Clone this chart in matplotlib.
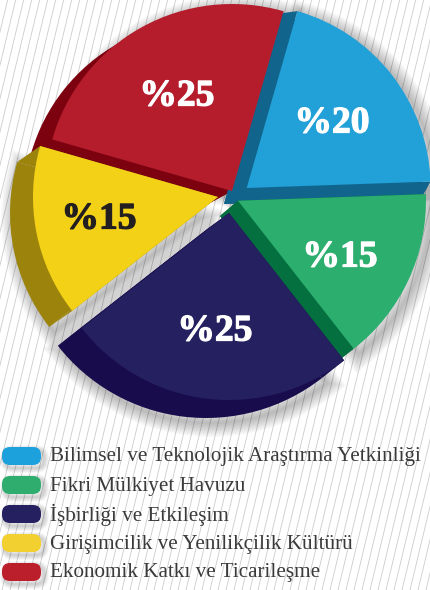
import matplotlib
matplotlib.use('Agg')
import matplotlib.pyplot as plt
import matplotlib.patheffects as pe
from matplotlib.patches import Wedge, Polygon, FancyBboxPatch
import numpy as np

W, H = 430, 590

# data
categories = ['Bilimsel ve Teknolojik Araştırma Yetkinliği',
              'Fikri Mülkiyet Havuzu',
              'İşbirliği ve Etkileşim',
              'Girişimcilik ve Yenilikçilik Kültürü',
              'Ekonomik Katkı ve Ticarileşme']
values = [20, 15, 25, 15, 25]

# styles
face_colors = ['#22A0D8', '#2BAE6E', '#252060', '#F3D116', '#B51D2D']
side_colors = ['#11648C', '#04703F', '#180C4C', '#9C840C', '#7C0210']
legend_colors = ['#1DA1DC', '#2EAD6E', '#252060', '#F2D02F', '#BC1F2C']
label_colors = ['white', 'white', 'white', '#231F20', 'white']
START = 74

# per slice geometry in image pixels (y down): face centre, radius, side centre, radius
face_c = [(246.7, 188), (238, 200.7), (229, 213), (218, 197), (232, 191)]
face_r = [184, 188, 187, 185, 187]
side_c = [(224, 204), (220, 216), (206, 230), (195, 213), (208, 204)]
side_r = [198, 187, 188, 185, 184]
label_pos = [(332, 123), (340, 257), (215, 331), (99, 219), (177, 96)]

# layer of each slice's side and face, so the overlaps come out right
side_z = [5, 8, 10, 3, 2]
face_z = [7, 9, 11, 4, 6]


def px(p):
    return p[0], H - p[1]


def rim(c, r, a):
    x, y = px(c)
    return x + r * np.cos(np.radians(a)), y + r * np.sin(np.radians(a))


def slice_angles():
    ends = START - np.cumsum(values) * 3.6
    starts = ends + np.array(values) * 3.6
    return ends, starts


def draw_shadow(ax, ends, starts):
    for i in range(5):
        x, y = px(side_c[i] if i in (2, 3) else face_c[i])
        r = side_r[i] if i in (2, 3) else face_r[i]
        x, y = x + 5, y - 5
        for lw in np.arange(2, 22, 2):
            ax.add_patch(Wedge((x, y), r, ends[i], starts[i], facecolor='none',
                               edgecolor='black', lw=lw, alpha=0.028, zorder=1))


def draw_slice(ax, i, a1, a2):
    fc, sc = face_c[i], side_c[i]
    ax.add_patch(Wedge(px(sc), side_r[i], a1, a2, color=side_colors[i], lw=0, zorder=side_z[i]))
    for a in (a1, a2):
        ax.add_patch(Polygon([px(fc), rim(fc, face_r[i], a), rim(sc, side_r[i], a), px(sc)],
                             color=side_colors[i], lw=0, zorder=side_z[i]))
    ax.add_patch(Wedge(px(fc), face_r[i], a1, a2, color=face_colors[i], lw=0, zorder=face_z[i]))


def main():
    fig = plt.figure(figsize=(W / 100, H / 100), dpi=100)
    ax = fig.add_axes([0, 0, 1, 1])
    ax.set_xlim(0, W)
    ax.set_ylim(0, H)
    ax.axis('off')

    # striped background
    for x0 in np.arange(-150, W + 10, 8):
        ax.plot([x0, x0 + H * 0.24], [0, H], color='#CCCCCC', lw=0.6, zorder=0)

    ends, starts = slice_angles()
    draw_shadow(ax, ends, starts)

    for i in range(5):
        draw_slice(ax, i, ends[i], starts[i])

    for i, v in enumerate(values):
        x, y = px(label_pos[i])
        ax.text(x, y, f'%{v}', ha='center', va='center', fontsize=27, fontweight='bold',
                family='Liberation Serif', color=label_colors[i], zorder=20,
                path_effects=[pe.withStroke(linewidth=0.9, foreground=label_colors[i])])

    # legend
    for i, name in enumerate(categories):
        yc = 456 + i * 29
        for k in range(1, 7):
            ax.add_patch(FancyBboxPatch((10, H - yc - 7), 29, 8,
                                        boxstyle='round,pad=5,rounding_size=8',
                                        facecolor='none', edgecolor='black', lw=k * 1.2,
                                        alpha=0.03, zorder=1))
        ax.add_patch(FancyBboxPatch((7, H - yc - 4), 29, 8, boxstyle='round,pad=5,rounding_size=8',
                                    facecolor=legend_colors[i], edgecolor='none', zorder=3))
        ax.text(50, H - yc - 1, name, ha='left', va='center', fontsize=15.2,
                family='Liberation Serif', color='#3A3A3A', zorder=10)

    fig.savefig('out.png', dpi=100)
    plt.close(fig)


if __name__ == '__main__':
    main()
